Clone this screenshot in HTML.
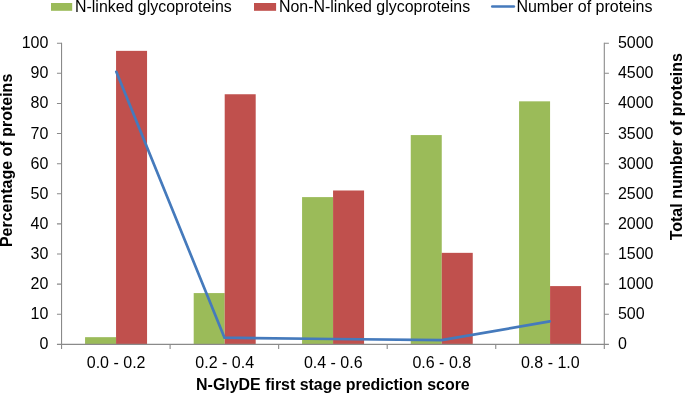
<!DOCTYPE html>
<html><head><meta charset="utf-8"><title>Chart</title>
<style>html,body{margin:0;padding:0;background:#fff}svg{display:block}</style>
</head><body>
<svg width="685" height="394" viewBox="0 0 685 394" font-family="'Liberation Sans', Arial, sans-serif" font-size="16" fill="#000">
<rect width="685" height="394" fill="#fff"/>
<rect x="85.06" y="337.17" width="31.00" height="7.23" fill="#9BBB59"/>
<rect x="116.06" y="50.85" width="31.00" height="293.55" fill="#C0504D"/>
<rect x="193.70" y="293.08" width="31.00" height="51.32" fill="#9BBB59"/>
<rect x="224.70" y="94.25" width="31.00" height="250.15" fill="#C0504D"/>
<rect x="302.07" y="197.11" width="31.00" height="147.29" fill="#9BBB59"/>
<rect x="333.07" y="190.49" width="31.00" height="153.91" fill="#C0504D"/>
<rect x="410.75" y="135.07" width="31.00" height="209.33" fill="#9BBB59"/>
<rect x="441.75" y="252.84" width="31.00" height="91.56" fill="#C0504D"/>
<rect x="519.07" y="101.33" width="31.00" height="243.07" fill="#9BBB59"/>
<rect x="550.07" y="286.09" width="31.00" height="58.31" fill="#C0504D"/>
<g stroke="#8a8a8a" stroke-width="1.1" fill="none">
<path d="M61.55 42.7V348.9"/>
<path d="M604.3 42.7V348.9"/>
<path d="M56.949999999999996 344.4H608.9"/>
<path d="M56.949999999999996 43.20H61.55M604.3 43.20H608.9"/>
<path d="M56.949999999999996 73.32H61.55M604.3 73.32H608.9"/>
<path d="M56.949999999999996 103.44H61.55M604.3 103.44H608.9"/>
<path d="M56.949999999999996 133.56H61.55M604.3 133.56H608.9"/>
<path d="M56.949999999999996 163.68H61.55M604.3 163.68H608.9"/>
<path d="M56.949999999999996 193.80H61.55M604.3 193.80H608.9"/>
<path d="M56.949999999999996 223.92H61.55M604.3 223.92H608.9"/>
<path d="M56.949999999999996 254.04H61.55M604.3 254.04H608.9"/>
<path d="M56.949999999999996 284.16H61.55M604.3 284.16H608.9"/>
<path d="M56.949999999999996 314.28H61.55M604.3 314.28H608.9"/>
<path d="M170.10 344.4V348.9"/>
<path d="M278.65 344.4V348.9"/>
<path d="M387.20 344.4V348.9"/>
<path d="M495.75 344.4V348.9"/>
</g>
<polyline points="116.3,71.8 224.5,337.7 333.0,339.0 441.6,340.2 549.8,321.4" fill="none" stroke="#457ABC" stroke-width="2.7" stroke-linejoin="round" stroke-linecap="round"/>
<text x="48.4" y="349.40" text-anchor="end">0</text>
<text x="617.9" y="349.40">0</text>
<text x="48.4" y="319.28" text-anchor="end">10</text>
<text x="617.9" y="319.28">500</text>
<text x="48.4" y="289.16" text-anchor="end">20</text>
<text x="617.9" y="289.16">1000</text>
<text x="48.4" y="259.04" text-anchor="end">30</text>
<text x="617.9" y="259.04">1500</text>
<text x="48.4" y="228.92" text-anchor="end">40</text>
<text x="617.9" y="228.92">2000</text>
<text x="48.4" y="198.80" text-anchor="end">50</text>
<text x="617.9" y="198.80">2500</text>
<text x="48.4" y="168.68" text-anchor="end">60</text>
<text x="617.9" y="168.68">3000</text>
<text x="48.4" y="138.56" text-anchor="end">70</text>
<text x="617.9" y="138.56">3500</text>
<text x="48.4" y="108.44" text-anchor="end">80</text>
<text x="617.9" y="108.44">4000</text>
<text x="48.4" y="78.32" text-anchor="end">90</text>
<text x="617.9" y="78.32">4500</text>
<text x="48.4" y="48.20" text-anchor="end">100</text>
<text x="617.9" y="48.20">5000</text>
<text x="116.12" y="368.15" text-anchor="middle">0.0 - 0.2</text>
<text x="224.68" y="368.15" text-anchor="middle">0.2 - 0.4</text>
<text x="333.23" y="368.15" text-anchor="middle">0.4 - 0.6</text>
<text x="441.78" y="368.15" text-anchor="middle">0.6 - 0.8</text>
<text x="550.32" y="368.15" text-anchor="middle">0.8 - 1.0</text>
<text x="332.9" y="390" text-anchor="middle" font-weight="bold" textLength="273.6" lengthAdjust="spacingAndGlyphs">N-GlyDE first stage prediction score</text>
<text transform="translate(12.1 160.4) rotate(-90)" text-anchor="middle" font-weight="bold">Percentage of proteins</text>
<text transform="translate(681.8 146.7) rotate(-90)" text-anchor="middle" font-weight="bold">Total number of proteins</text>
<rect x="51" y="3" width="21.2" height="7.8" fill="#9BBB59"/>
<text x="75" y="12.0" textLength="156.7" lengthAdjust="spacingAndGlyphs">N-linked glycoproteins</text>
<rect x="254" y="3" width="22.1" height="7.8" fill="#C0504D"/>
<text x="279" y="12.0" textLength="191.2" lengthAdjust="spacingAndGlyphs">Non-N-linked glycoproteins</text>
<path d="M492.2 6.6H513.9" stroke="#457ABC" stroke-width="2.5" stroke-linecap="round" fill="none"/>
<text x="516.4" y="12.0">Number of proteins</text>
</svg>
</body></html>
